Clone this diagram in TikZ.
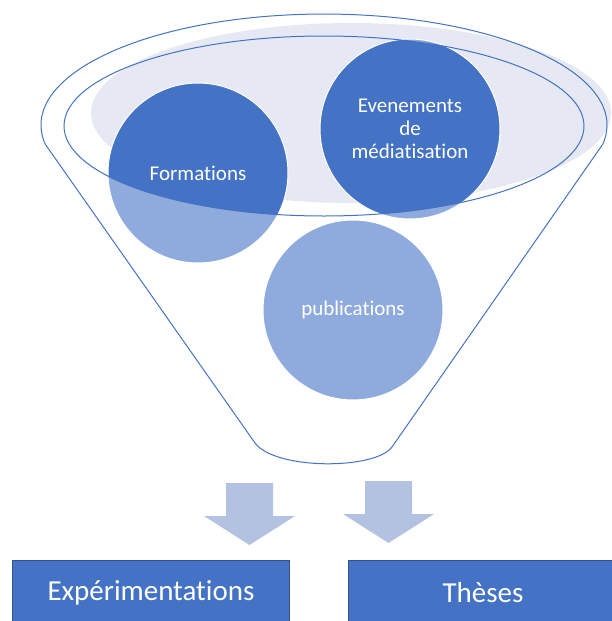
\documentclass[tikz,border=0pt]{standalone}
\usepackage{fontspec}
\setmainfont{Carlito}[Ligatures = NoCommon]
\usetikzlibrary{scopes, backgrounds}

\definecolor{azul}{HTML}{4472C4}
\definecolor{azulclaro}{HTML}{8FAADC}
\definecolor{azulborde}{HTML}{2F528F}
\definecolor{gris}{HTML}{E6E9F4}
\definecolor{lavanda}{HTML}{B4C2E2}
\def\R{90}

\begin{document}
\begin{tikzpicture}[
	x = 1pt, y = -1pt,
	burbuja/.style = {
		circle, minimum size = 2*\R, inner sep = 0pt,
		draw = white, line width = 1pt,
		text = white, align = center,
		font = \fontsize{21}{23}\selectfont
	},
	caja/.style = {
		rectangle, draw = azulborde, line width = 1pt,
		fill = azul, text = white,
		minimum height = 66, inner sep = 0pt,
		font = \fontsize{29}{34}\selectfont
	},
	borde/.style = {azul, line width = 1pt},
	flecha/.style = {fill = lavanda},
]

	% márgenes del dibujo
	\useasboundingbox (0,0) rectangle (612,621);

	% burbujas
	\node[burbuja] (form) at (198,173) {Formations};
	\node[burbuja] (even) at (410,129) {Evenements\\de\\médiatisation};
	\node[burbuja] (pub) at (353,310) {publications};

	% borde del embudo
	\draw[borde]
		(255,443) -- (45.3,144.3)
		arc[start angle = 170, end angle = 370, x radius = 283, y radius = 111]
		-- (392,447)
		.. controls (375,470) and (275,470) .. cycle;

	% elipse interior
	\draw[borde] (324,126) ellipse [x radius = 260, y radius = 90];

	% rellenos
	{[on background layer]
	\fill[gris] (351,113) ellipse [x radius = 260, y radius = 90];
	\foreach \p in {form,even,pub}
		\fill[azulclaro] (\p.center) circle (\R);
	\begin{scope}
		\clip (324,126) ellipse [x radius = 260, y radius = 90];
		\foreach \p in {form,even}
			\fill[azul] (\p.center) circle (\R);
	\end{scope}
	}

	% flechas
	\foreach \cx/\ty in {249.5/483, 388.5/481}
		\fill[flecha]
			(\cx-23.5,\ty) -- (\cx+23.5,\ty) -- (\cx+23.5,\ty+33)
			-- (\cx+45.5,\ty+33) -- (\cx,\ty+62) -- (\cx-45.5,\ty+33)
			-- (\cx-23.5,\ty+33) -- cycle;

	% resultados
	\node[caja, minimum width = 277] (exp) at (151,593) {Expérimentations};
	\node[caja, minimum width = 270] (these) at (483,593) {Thèses};

\end{tikzpicture}
\end{document}
